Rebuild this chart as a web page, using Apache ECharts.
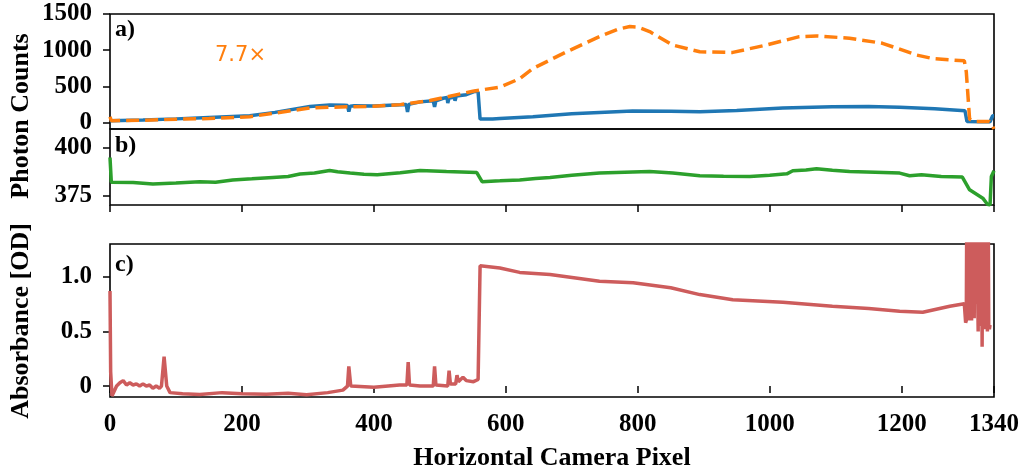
<!DOCTYPE html>
<html>
<head>
<meta charset="utf-8">
<script src="https://cdn.jsdelivr.net/npm/echarts@6/dist/echarts.min.js"></script>
<style>
html,body{margin:0;padding:0;background:#fff;}
#chart{width:1025px;height:474px;}
</style>
</head>
<body>
<div id="chart"></div>
<script>
// ---- data ----
const xTicks = [0, 200, 400, 600, 800, 1000, 1200, 1340];
const countsTicks = [0, 500, 1000, 1500];
const refTicks = [375, 400];
const odTicks = [0, 0.5, 1.0];

const blueX = [0, 50, 100, 150, 212, 250, 303, 333, 355, 360, 362, 364, 370, 400, 440, 449, 451, 453, 470, 490, 492, 494, 505, 511, 512, 514, 522, 523, 525, 540, 553, 558, 561, 580, 591, 641, 700, 792, 850, 894, 950, 1020, 1095, 1150, 1197, 1250, 1296, 1299, 1320, 1334, 1338, 1340];
const blueY = [25, 35, 50, 70, 94, 140, 220, 243, 240, 235, 150, 225, 230, 228, 245, 250, 145, 250, 285, 300, 215, 300, 335, 345, 270, 340, 350, 300, 365, 385, 430, 420, 48, 48, 55, 80, 120, 160, 155, 150, 165, 200, 219, 222, 210, 190, 163, 15, 10, 10, 94, 94];

const orangeX = [0, 2, 50, 100, 150, 212, 250, 303, 333, 400, 440, 485, 550, 591, 621, 641, 692, 742, 770, 788, 800, 818, 853, 894, 944, 995, 1045, 1071, 1121, 1171, 1223, 1247, 1295, 1298, 1303, 1310, 1333, 1336, 1340];
const orangeY = [80, 25, 30, 45, 55, 80, 130, 200, 210, 225, 247, 303, 433, 489, 606, 746, 978, 1187, 1290, 1327, 1320, 1257, 1071, 978, 969, 1071, 1187, 1197, 1165, 1095, 932, 885, 852, 700, 47, 14, 14, -20, -90];

const greenX = [0, 2, 5, 35, 65, 100, 136, 160, 186, 215, 247, 270, 288, 310, 333, 345, 364, 385, 405, 440, 470, 510, 556, 564, 591, 621, 645, 667, 700, 742, 780, 818, 853, 894, 930, 970, 1000, 1026, 1035, 1055, 1071, 1095, 1121, 1160, 1197, 1212, 1230, 1260, 1292, 1303, 1323, 1330, 1334, 1336, 1340];
const greenY = [395, 382, 381.5, 381.8, 381, 381.6, 382.3, 382.0, 383.2, 383.8, 384.5, 385.0, 386.3, 386.8, 388.2, 387.5, 386.8, 386.2, 385.9, 387.0, 388.2, 387.6, 387.1, 382.3, 382.7, 383.2, 383.9, 384.5, 385.6, 386.8, 387.2, 387.6, 386.8, 385.4, 385.1, 385.0, 385.6, 386.4, 388.0, 388.4, 389.1, 388.3, 387.6, 387.3, 386.8, 385.4, 385.9, 385.0, 384.7, 378, 373.6, 370.4, 370, 385, 388];

const redX = [0, 1, 3, 10, 15, 20, 25, 30, 35, 40, 45, 50, 55, 60, 65, 70, 75, 78, 82, 86, 91, 110, 136, 170, 200, 237, 270, 298, 330, 353, 360, 362, 365, 368, 400, 439, 450, 452, 454, 470, 490, 492, 494, 512, 514, 516, 524, 526, 528, 535, 540, 551, 558, 561, 591, 621, 667, 742, 793, 850, 894, 944, 1020, 1095, 1150, 1197, 1232, 1273, 1295, 1297, 1298, 1299, 1300, 1301, 1302, 1303, 1304, 1305, 1306, 1307, 1308, 1309, 1310, 1311, 1312, 1313, 1315, 1316, 1317, 1318, 1319, 1320, 1321, 1322, 1323, 1324, 1325, 1326, 1327, 1328, 1329, 1330, 1331, 1332, 1333, 1334];
const redY = [0.87, 0.13, -0.09, 0.0, 0.03, 0.05, 0.01, 0.03, 0.01, 0.02, 0.0, 0.02, 0.0, 0.01, -0.02, 0.0, -0.02, 0.0, 0.27, 0.0, -0.06, -0.07, -0.077, -0.06, -0.07, -0.075, -0.065, -0.08, -0.06, -0.037, 0.0, 0.18, 0.0, -0.01, -0.01, 0.01, 0.01, 0.22, 0.01, 0.0, 0.0, 0.18, 0.01, 0.0, 0.14, 0.02, 0.02, 0.10, 0.04, 0.08, 0.05, 0.04, 0.06, 1.10, 1.08, 1.04, 1.02, 0.96, 0.945, 0.9, 0.837, 0.79, 0.766, 0.73, 0.71, 0.684, 0.675, 0.73, 0.754, 0.58, 0.6, 2, 0.62, 2, 0.6, 2, 0.62, 2, 0.6, 2, 0.64, 2, 0.62, 2, 0.75, 2, 2, 0.5, 2, 0.55, 2, 0.6, 2, 0.36, 2, 0.55, 2, 0.52, 2, 0.55, 2, 0.5, 2, 0.55, 0.52, 0.56];

// ---- chart ----
const zip = (xs, ys) => xs.map((x, i) => [x, ys[i]]);
const SERIF = '"Liberation Serif", "Times New Roman", serif';
const tickFont = { fontFamily: SERIF, fontWeight: 'bold', fontSize: 25, color: '#000' };

const grids = [
  { left: 110, top: 14, width: 884, height: 115 },
  { left: 110, top: 129, width: 884, height: 76 },
  { left: 110, top: 244, width: 884, height: 153 }
].map(g => Object.assign(g, { show: true, borderColor: '#000', borderWidth: 1.6, backgroundColor: 'transparent' }));

function xAxis(i, labels, ticks) {
  return {
    type: 'value', gridIndex: i, min: 0, max: 1340,
    axisLine: { show: false },
    splitLine: { show: false },
    axisTick: { show: ticks, length: 7, lineStyle: { color: '#000', width: 1.5 }, customValues: xTicks },
    axisLabel: Object.assign({ show: labels, margin: 15, customValues: xTicks, formatter: v => String(v) }, tickFont)
  };
}
function yAxis(i, min, max, ticks, fmt) {
  return {
    type: 'value', gridIndex: i, min: min, max: max,
    axisLine: { show: false },
    splitLine: { show: false },
    axisTick: { show: true, length: 7, lineStyle: { color: '#000', width: 1.5 }, customValues: ticks },
    axisLabel: Object.assign({ margin: 18, customValues: ticks, formatter: fmt }, tickFont)
  };
}

const chart = echarts.init(document.getElementById('chart'), null, { renderer: 'canvas' });
chart.setOption({
  animation: false,
  backgroundColor: '#fff',
  grid: grids,
  xAxis: [xAxis(0, false, false), xAxis(1, false, true), xAxis(2, true, true)],
  yAxis: [
    yAxis(0, -90, 1500, countsTicks, v => String(v)),
    yAxis(1, 370, 410, refTicks, v => String(v)),
    yAxis(2, -0.1, 1.3, odTicks, v => (v === 0 ? '0' : v.toFixed(1)))
  ],
  series: [
    { type: 'line', xAxisIndex: 0, yAxisIndex: 0, data: zip(blueX, blueY), showSymbol: false, clip: true,
      lineStyle: { color: '#1f77b4', width: 3.5 }, z: 3 },
    { type: 'line', xAxisIndex: 0, yAxisIndex: 0, data: zip(orangeX, orangeY), showSymbol: false, clip: true,
      lineStyle: { color: '#ff7f0e', width: 3.5, type: [13, 6] }, z: 4 },
    { type: 'line', xAxisIndex: 1, yAxisIndex: 1, data: zip(greenX, greenY), showSymbol: false, clip: true,
      lineStyle: { color: '#2ca02c', width: 3.5 } },
    { type: 'line', xAxisIndex: 2, yAxisIndex: 2, data: zip(redX, redY), showSymbol: false, clip: true,
      lineStyle: { color: '#cd5c5c', width: 3.5 } }
  ],
  graphic: [
    { type: 'text', left: 115, top: 18, style: { text: 'a)', font: 'bold 24px ' + SERIF, fill: '#000' } },
    { type: 'text', left: 115, top: 134, style: { text: 'b)', font: 'bold 24px ' + SERIF, fill: '#000' } },
    { type: 'text', left: 115, top: 253, style: { text: 'c)', font: 'bold 24px ' + SERIF, fill: '#000' } },
    { type: 'text', x: 215, y: 56, style: { text: '7.7\u00d7', font: '21px "DejaVu Sans", sans-serif', fill: '#ff7f0e', textVerticalAlign: 'middle' } },
    { type: 'text', x: 21, y: 116, rotation: Math.PI / 2,
      style: { text: 'Photon Counts', font: 'bold 26px ' + SERIF, fill: '#000', textAlign: 'center', textVerticalAlign: 'middle' } },
    { type: 'text', x: 21, y: 321, rotation: Math.PI / 2,
      style: { text: 'Absorbance [OD]', font: 'bold 26px ' + SERIF, fill: '#000', textAlign: 'center', textVerticalAlign: 'middle' } },
    { type: 'text', x: 552, y: 458,
      style: { text: 'Horizontal Camera Pixel', font: 'bold 26px ' + SERIF, fill: '#000', textAlign: 'center', textVerticalAlign: 'middle' } }
  ]
});
</script>
</body>
</html>
